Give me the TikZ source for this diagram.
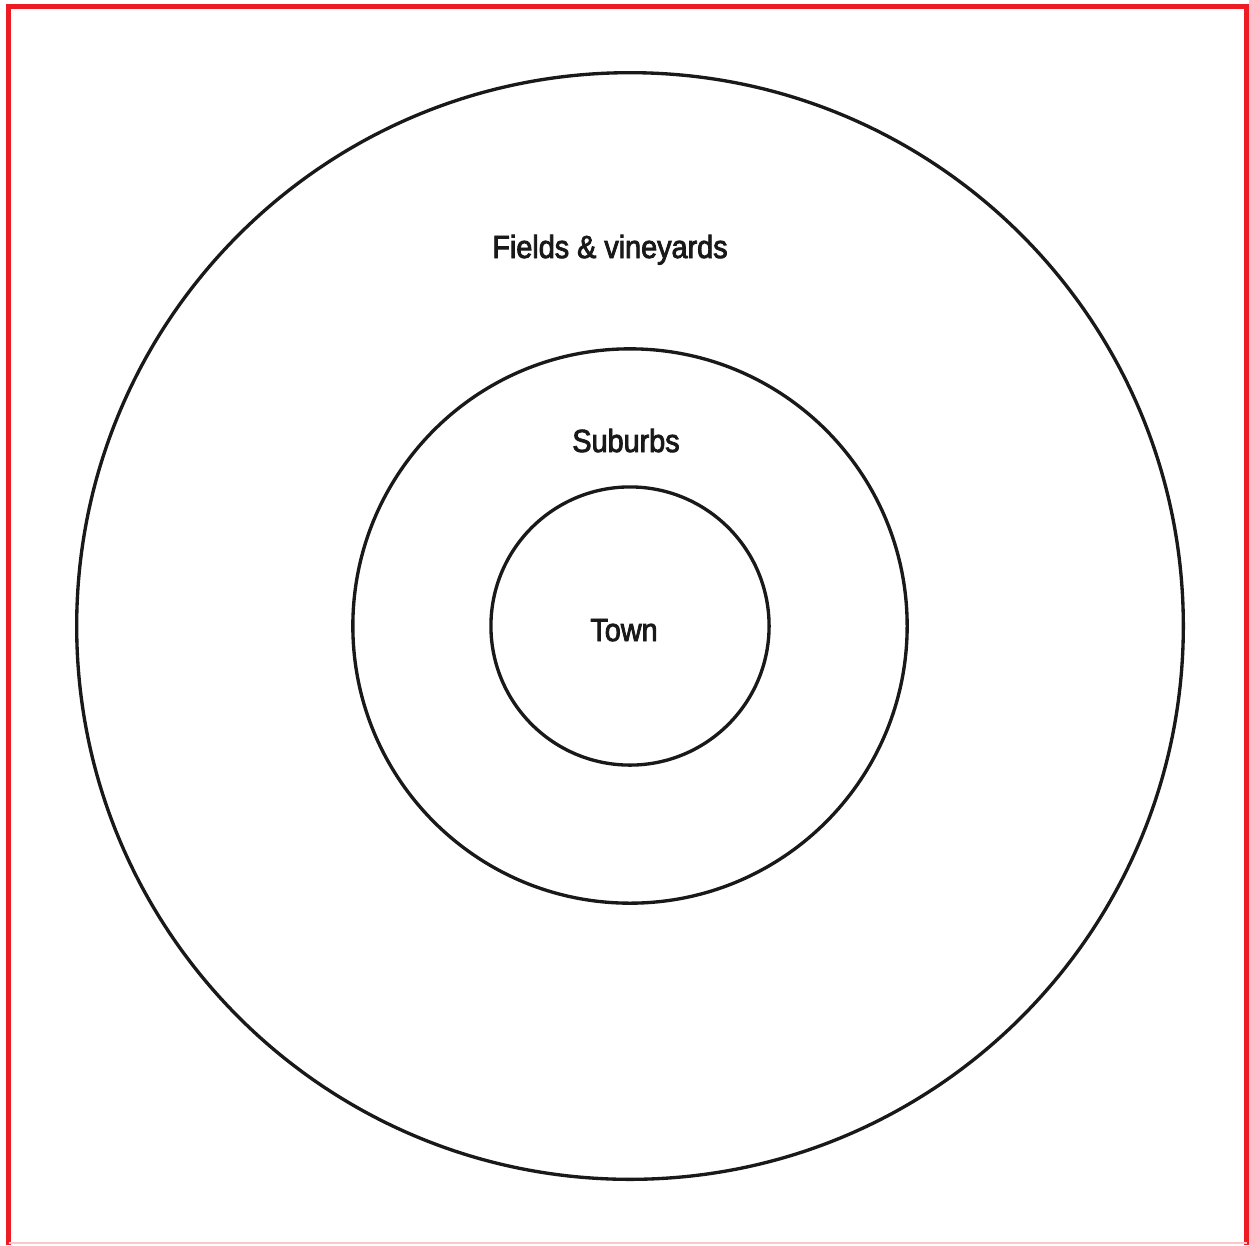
\documentclass[tikz,border=0pt]{standalone}
\usepackage{fontspec}
\newfontfamily\labfont[FakeStretch=0.9,FakeBold=2.6]{Liberation Sans}
\definecolor{frame}{RGB}{237,28,36}
\definecolor{ink}{RGB}{25,25,25}
\begin{document}
\begin{tikzpicture}[x=0.01cm,y=-0.01cm,
  ring/.style={draw=ink,line width=0.95pt,circle,inner sep=0pt},
  lab/.style={font=\labfont\fontsize{9.1pt}{11pt}\selectfont,text=ink,anchor=base,inner sep=0pt}]
\useasboundingbox (0,0) rectangle (1249,1245);
\fill[white] (0,0) rectangle (1249,1245);
% frame
\draw[frame,line width=1.45pt] (8.5,1245) -- (8.5,6.5) -- (1247,6.5) -- (1247,1245);
\draw[frame!25,line width=0.6pt] (8.5,1243) -- (1247,1243);
% rings
\node[ring,minimum size=11.06cm] (outer) at (630,626) {};
\node[ring,minimum size=5.54cm] (middle) at (630,626) {};
\node[ring,minimum size=2.78cm] (inner) at (630,626) {};
% labels
\node[lab] (fields) at (610,258) {Fields \& vineyards};
\node[lab] (suburbs) at (626,452) {Suburbs};
\node[lab] (town) at (624,641) {Town};
\end{tikzpicture}
\end{document}
